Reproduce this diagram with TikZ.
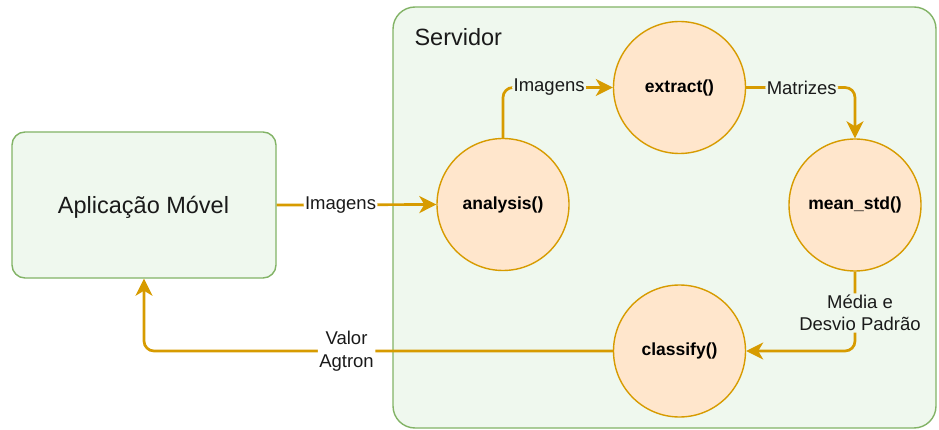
\documentclass[tikz,border=0pt]{standalone}
\usepackage{fontspec}
\setmainfont{Liberation Sans}
\usetikzlibrary{arrows.meta,positioning}

\definecolor{boxfill}{HTML}{EFF8EE}
\definecolor{boxline}{HTML}{82B366}
\definecolor{procfill}{HTML}{FFE6CC}
\definecolor{procline}{HTML}{D79B00}
\definecolor{txt}{HTML}{1A1A1A}

\tikzset{
  panel/.style={draw=boxline, fill=boxfill, line width=1.4pt, inner sep=0pt},
  proc/.style={circle, draw=procline, fill=procfill, line width=1.4pt,
    minimum size=132pt, inner sep=0pt, text=black,
    font=\fontsize{17.5}{21}\selectfont\bfseries},
  flow/.style={draw=procline, line width=2.7pt, rounded corners=10pt,
    -{Stealth[length=17pt,width=17pt,inset=5pt]}},
  lbl/.style={fill=#1, text=txt, inner sep=1.5pt, align=center,
    font=\fontsize{18.5}{22.5}\selectfont},
  lbl/.default=white,
}

\begin{document}
\begin{tikzpicture}[x=1pt,y=-1pt]
\useasboundingbox (0,0) rectangle (939,430);

% server container and client application
\node[panel, rounded corners=22pt, minimum width=543pt, minimum height=421pt]
  (srv) at (664.5,217.5) {};
\node[anchor=base west, text=txt, font=\fontsize{23.5}{28}\selectfont]
  (srvtitle) at (411,46) {Servidor};

\node[panel, rounded corners=13pt, minimum width=264pt, minimum height=146pt]
  (app) at (144,205) {};
\node[anchor=base, text=txt, font=\fontsize{23.5}{28}\selectfont]
  (apptitle) at (143.5,213.5) {Aplicação Móvel};

% processing steps
\node[proc] (analysis) at (503,204.5) {analysis()};
\node[proc] (extract)  at (679.5,87.5) {extract()};
\node[proc] (meanstd)  at (855,205)   {mean\_std()};
\node[proc] (classify) at (679.5,351) {classify()};

% data flow
\draw[flow] (app.east) -- node[lbl, pos=0.4] (l1) {Imagens} (analysis.west);
\draw[flow] (analysis.north) |- node[lbl=boxfill, pos=0.71] (l2) {Imagens} (extract.west);
\draw[flow] (extract.east) -| node[lbl=boxfill, pos=0.255] (l3) {Matrizes} (meanstd.north);
\draw[flow] (meanstd.south) |- node[lbl=boxfill, pos=0.26, xshift=5pt] (l4) {Média e\\Desvio Padrão} (classify.east);
\draw[flow] (classify.west) -| node[lbl, pos=0.284] (l5) {Valor\\Agtron} (app.south);
\end{tikzpicture}
\end{document}
